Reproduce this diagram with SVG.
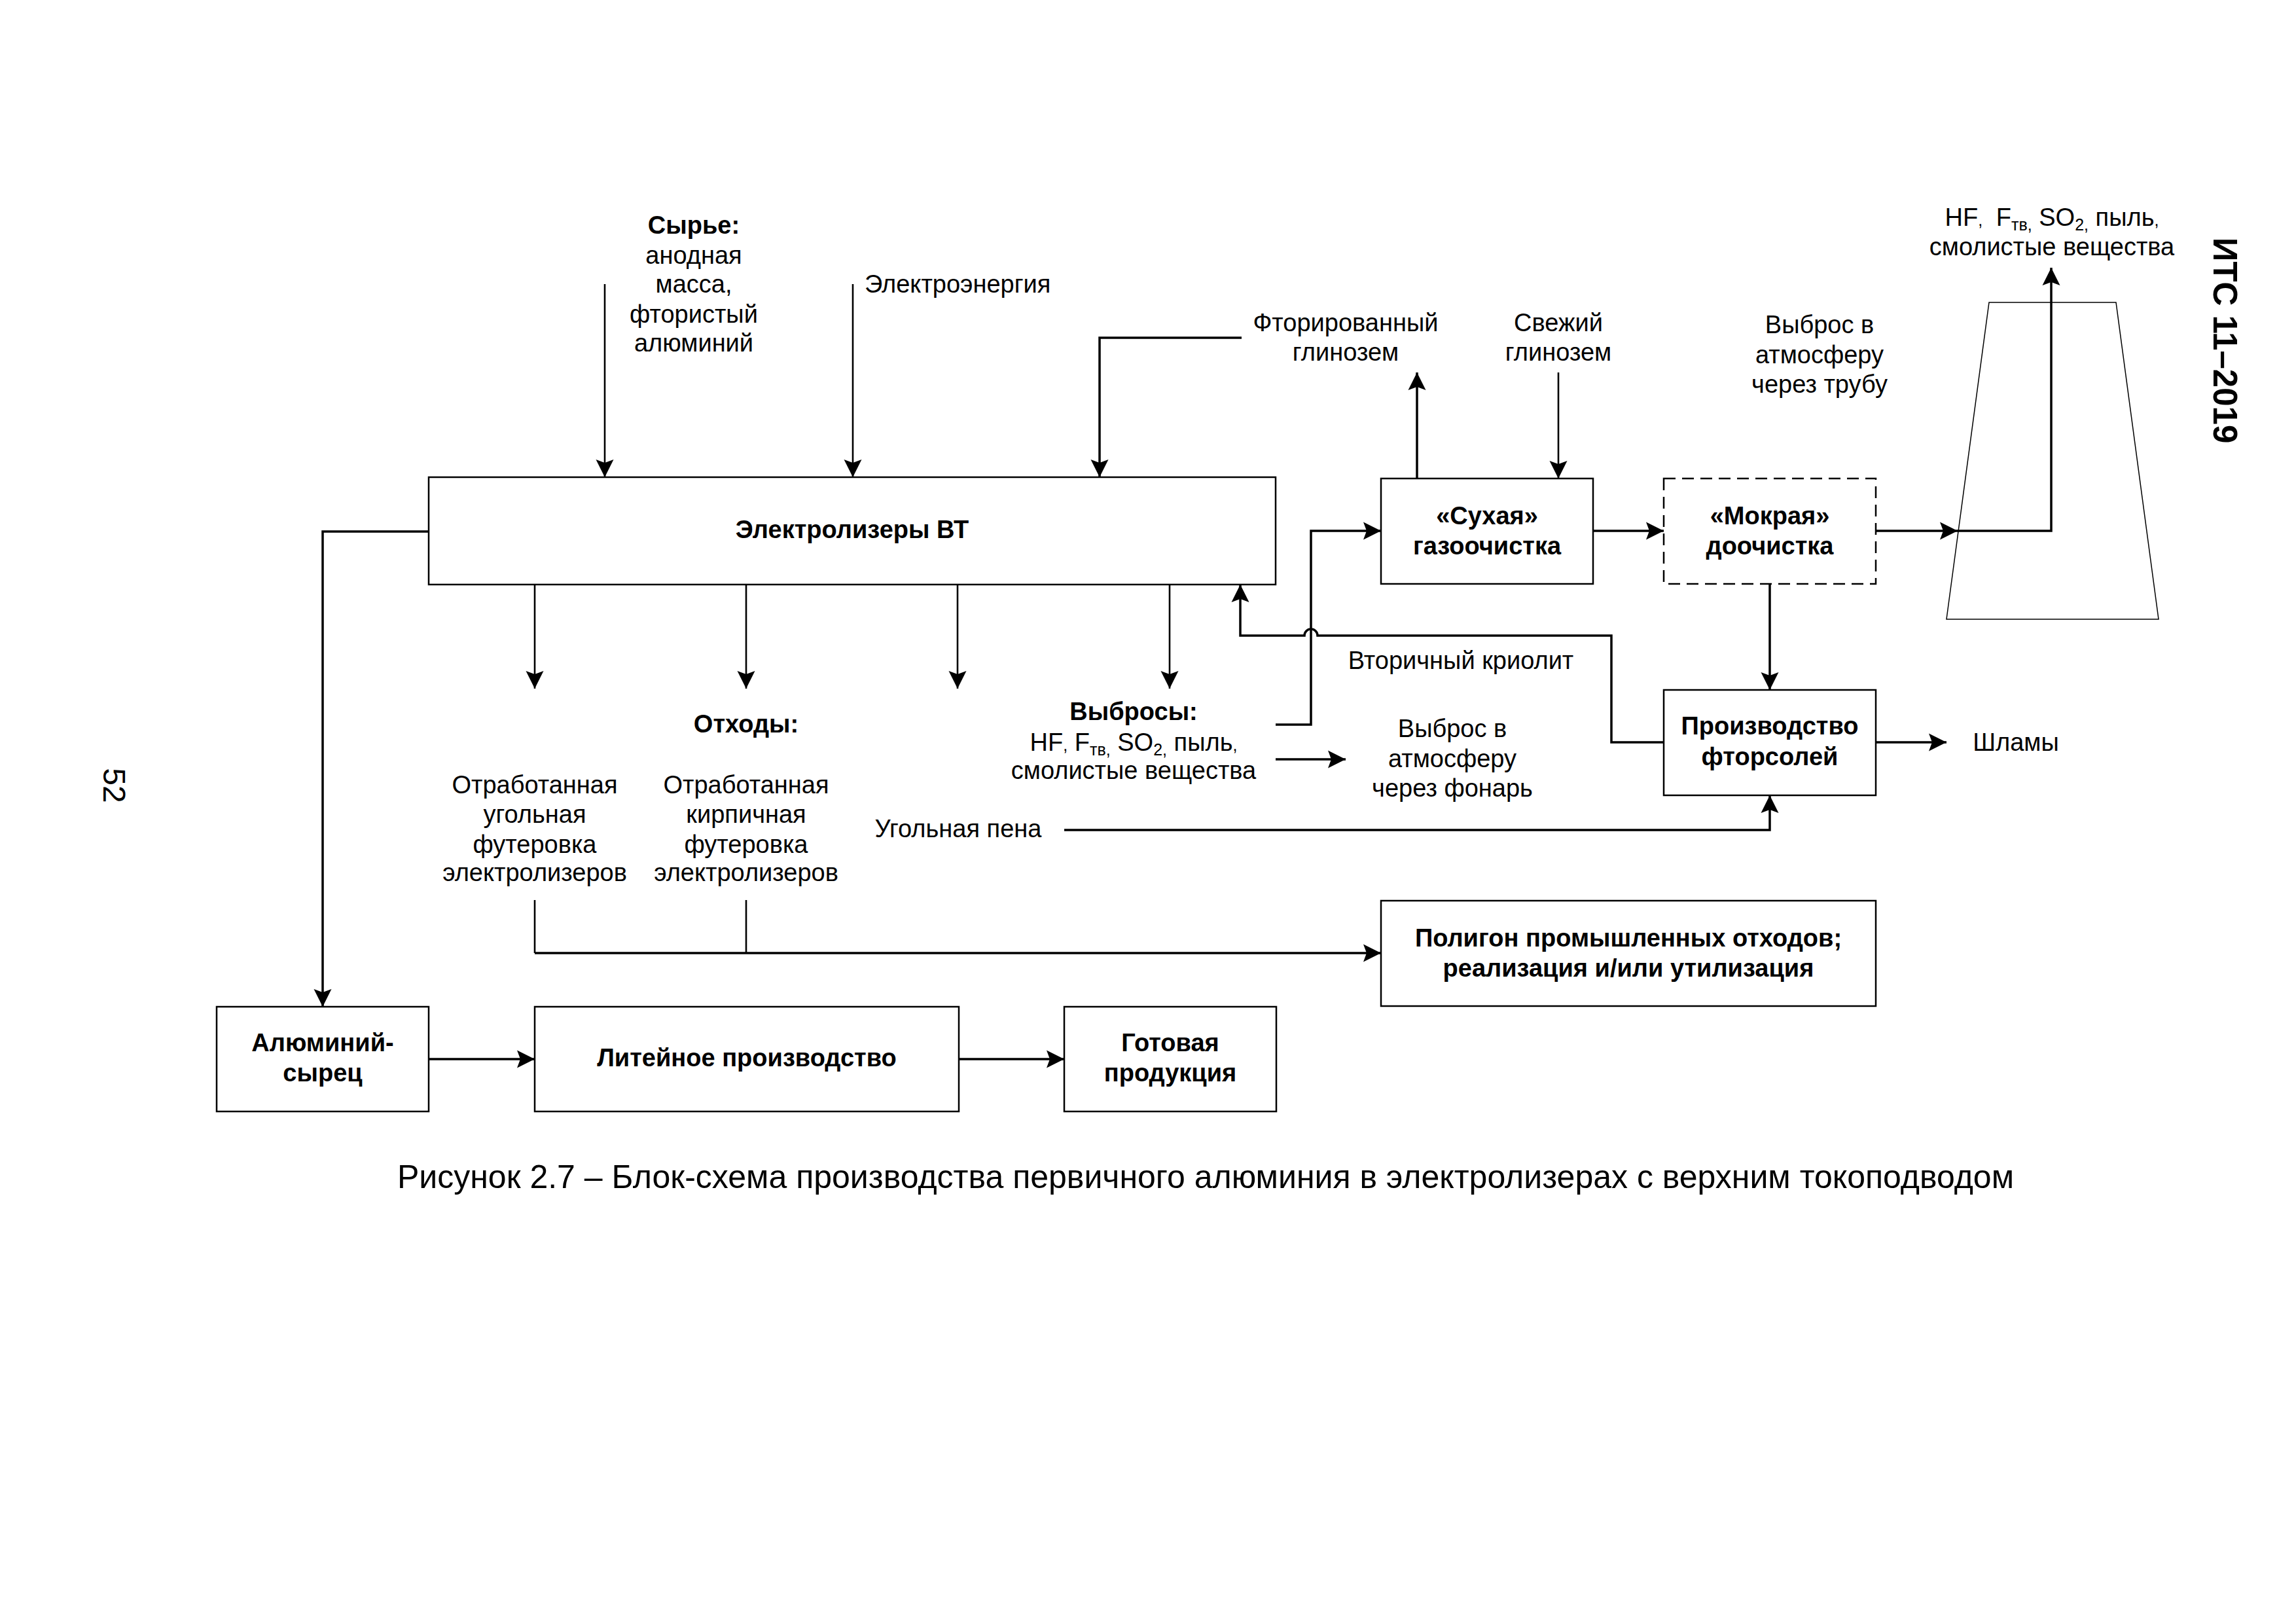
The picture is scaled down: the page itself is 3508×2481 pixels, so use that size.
<svg xmlns="http://www.w3.org/2000/svg" width="3508" height="2481" viewBox="0 0 3508 2481">
<style>
text{font-family:"Liberation Sans",Arial,sans-serif;font-size:38px;fill:#000}
.b{font-weight:bold}
.c{text-anchor:middle}
.box{fill:#fff;stroke:#000;stroke-width:2.5}
.dash{stroke-dasharray:18 10}
.ln{fill:none;stroke:#000;stroke-width:3.5}
.th{fill:none;stroke:#000;stroke-width:2.6}
.sub{font-size:25px}
.cap{font-size:50px}
</style>
<defs>
<marker id="ah" markerUnits="userSpaceOnUse" markerWidth="32" markerHeight="32" viewBox="-30 -16 32 32" refX="0" refY="0" orient="auto">
<path d="M0,0 L-27,-13.5 L-22,0 L-27,13.5 Z" fill="#000"/>
</marker>
</defs>
<rect width="3508" height="2481" fill="#fff"/>

<g id="connectors">
<path class="th" d="M924,434 V729" marker-end="url(#ah)"/>
<path class="th" d="M1303,434 V729" marker-end="url(#ah)"/>
<path class="ln" d="M1897,516 H1680 V729" marker-end="url(#ah)"/>
<path class="th" d="M817,893 V1052" marker-end="url(#ah)"/>
<path class="th" d="M1140,893 V1052" marker-end="url(#ah)"/>
<path class="th" d="M1463,893 V1052" marker-end="url(#ah)"/>
<path class="th" d="M1787,893 V1052" marker-end="url(#ah)"/>
<path class="ln" d="M2542,1134 H2462 V971 H2013 A10,10 0 0 0 1993,971 H1895 V893" marker-end="url(#ah)"/>
<path class="ln" d="M1949,1107 H2003 V811 H2110" marker-end="url(#ah)"/>
<path class="ln" d="M1949,1160 H2056" marker-end="url(#ah)"/>
<path class="ln" d="M2165,731 V569" marker-end="url(#ah)"/>
<path class="th" d="M2381,569 V731" marker-end="url(#ah)"/>
<path class="ln" d="M2434,811 H2542" marker-end="url(#ah)"/>
<path class="ln" d="M2866,811 H2991" marker-end="url(#ah)"/>
<path class="ln" d="M2991,811 H3134 V409" marker-end="url(#ah)"/>
<path class="ln" d="M2704,892 V1054" marker-end="url(#ah)"/>
<path class="ln" d="M2866,1134 H2974" marker-end="url(#ah)"/>
<path class="ln" d="M1626,1268 H2704 V1215" marker-end="url(#ah)"/>
<path class="th" d="M817,1375 V1456"/>
<path class="th" d="M1140,1375 V1456"/>
<path class="ln" d="M817,1456 H2110" marker-end="url(#ah)"/>
<path class="ln" d="M655,812 H493 V1538" marker-end="url(#ah)"/>
<path class="ln" d="M655,1618 H817" marker-end="url(#ah)"/>
<path class="ln" d="M1465,1618 H1626" marker-end="url(#ah)"/>
</g>

<g id="chimney">
<polygon points="3039,462 3233,462 3298,946 2974,946" fill="none" stroke="#000" stroke-width="1.5"/>
</g>

<g id="electrolyzers">
<rect class="box" x="655" y="729" width="1294" height="164"/>
<text class="b c" x="1302" y="822">Электролизеры ВТ</text>
</g>
<g id="dry">
<rect class="box" x="2110" y="731" width="324" height="161"/>
<text class="b c" x="2272" y="801">«Сухая»</text>
<text class="b c" x="2272" y="847">газоочистка</text>
</g>
<g id="wet">
<rect class="box dash" x="2542" y="731" width="324" height="161"/>
<text class="b c" x="2704" y="801">«Мокрая»</text>
<text class="b c" x="2704" y="847">доочистка</text>
</g>
<g id="fluorsalts">
<rect class="box" x="2542" y="1054" width="324" height="161"/>
<text class="b c" x="2704" y="1122">Производство</text>
<text class="b c" x="2704" y="1169">фторсолей</text>
</g>
<g id="landfill">
<rect class="box" x="2110" y="1376" width="756" height="161"/>
<text class="b c" x="2488" y="1446">Полигон промышленных отходов;</text>
<text class="b c" x="2488" y="1492">реализация и/или утилизация</text>
</g>
<g id="rawal">
<rect class="box" x="331" y="1538" width="324" height="160"/>
<text class="b c" x="493" y="1606">Алюминий-</text>
<text class="b c" x="493" y="1652">сырец</text>
</g>
<g id="casting">
<rect class="box" x="817" y="1538" width="648" height="160"/>
<text class="b c" x="1141" y="1629">Литейное производство</text>
</g>
<g id="product">
<rect class="box" x="1626" y="1538" width="324" height="160"/>
<text class="b c" x="1788" y="1606">Готовая</text>
<text class="b c" x="1788" y="1652">продукция</text>
</g>

<g id="labels">
<text class="b c" x="1060" y="357">Сырье:</text>
<text class="c" x="1060" y="403">анодная</text>
<text class="c" x="1060" y="447">масса,</text>
<text class="c" x="1060" y="493">фтористый</text>
<text class="c" x="1060" y="537">алюминий</text>
<text x="1321" y="447">Электроэнергия</text>
<text class="c" x="2056" y="506">Фторированный</text>
<text class="c" x="2056" y="551">глинозем</text>
<text class="c" x="2381" y="506">Свежий</text>
<text class="c" x="2381" y="551">глинозем</text>
<text class="c" x="2780" y="509">Выброс в</text>
<text class="c" x="2780" y="555">атмосферу</text>
<text class="c" x="2780" y="600">через трубу</text>
<text class="c" x="3135" y="345">HF<tspan class="sub">,</tspan>  <tspan dx="10">F</tspan><tspan class="sub" dy="7">тв,</tspan><tspan dy="-7"> SO</tspan><tspan class="sub" dy="7">2,</tspan><tspan dy="-7"> пыль</tspan><tspan class="sub">,</tspan></text>
<text class="c" x="3135" y="390">смолистые вещества</text>
<text class="b c" x="1732" y="1100">Выбросы:</text>
<text class="c" x="1732" y="1147">HF<tspan class="sub">,</tspan> F<tspan class="sub" dy="7">тв,</tspan><tspan dy="-7"> SO</tspan><tspan class="sub" dy="7">2,</tspan><tspan dy="-7"> пыль</tspan><tspan class="sub">,</tspan></text>
<text class="c" x="1732" y="1190">смолистые вещества</text>
<text class="b c" x="1140" y="1119">Отходы:</text>
<text class="c" x="817" y="1212">Отработанная</text>
<text class="c" x="817" y="1257">угольная</text>
<text class="c" x="817" y="1303">футеровка</text>
<text class="c" x="817" y="1346">электролизеров</text>
<text class="c" x="1140" y="1212">Отработанная</text>
<text class="c" x="1140" y="1257">кирпичная</text>
<text class="c" x="1140" y="1303">футеровка</text>
<text class="c" x="1140" y="1346">электролизеров</text>
<text class="c" x="1464" y="1279">Угольная пена</text>
<text class="c" x="2232" y="1022">Вторичный криолит</text>
<text class="c" x="2219" y="1126">Выброс в</text>
<text class="c" x="2219" y="1172">атмосферу</text>
<text class="c" x="2219" y="1217">через фонарь</text>
<text class="c" x="3080" y="1147">Шламы</text>
<text class="c cap" x="1842" y="1815">Рисунок 2.7 – Блок-схема производства первичного алюминия в электролизерах с верхним токоподводом</text>
<text class="b c" transform="translate(3400,520) rotate(90)" x="0" y="18" style="font-size:51px">ИТС 11–2019</text>
<text class="c" transform="translate(175,1200) rotate(90)" x="0" y="17" style="font-size:48px">52</text>
</g>
</svg>
